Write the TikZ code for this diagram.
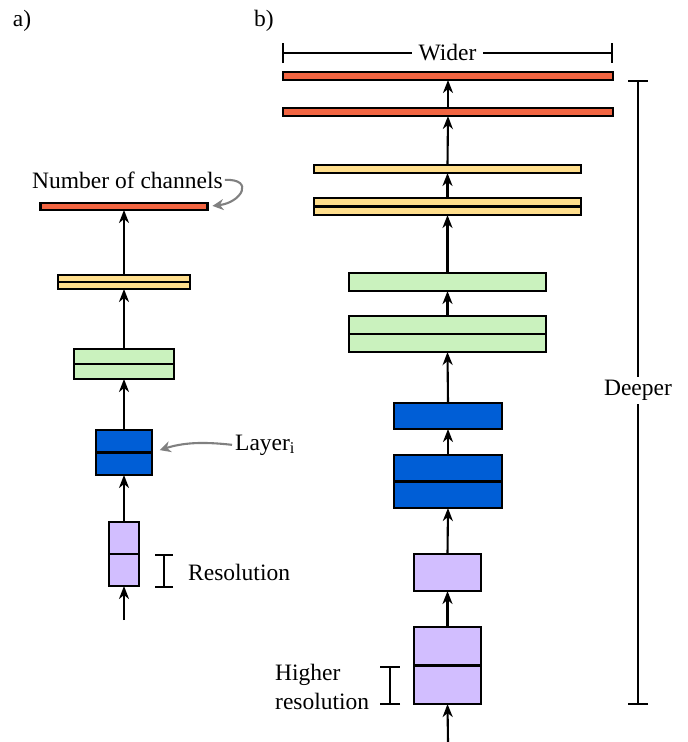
\documentclass[tikz,border=0pt]{standalone}
\usepackage{fontspec}
\setmainfont{Liberation Serif}
\usepackage{xcolor}
\usetikzlibrary{arrows.meta}

\definecolor{lagrod}{RGB}{242,101,66}
\definecolor{laggul}{RGB}{255,222,140}
\definecolor{laggron}{RGB}{202,242,190}
\definecolor{lagblaa}{RGB}{0,94,214}
\definecolor{laglilla}{RGB}{210,190,255}
\definecolor{pilgraa}{RGB}{128,128,128}

\begin{document}
\begin{tikzpicture}[x=1pt,y=-1pt,
    >={Stealth[length=13pt,width=10pt,inset=4pt]},
    font=\fontsize{23.5}{29}\selectfont,
    lag/.style={draw,line width=2.1pt,inner sep=0pt,outer sep=0pt,fill=#1},
    pil/.style={->,line width=2.1pt},
    graapil/.style={-{Stealth[length=11pt,width=11pt,inset=3.5pt]},draw=pilgraa,line width=2.1pt},
    maal/.style={{Bar[width=20pt]}-{Bar[width=20pt]},line width=2.1pt}]
  \useasboundingbox (0,0) rectangle (688,742);

  % Delfigur a
  \node (aMrk) at (22,21) {a)};
  \node[lag=lagrod,minimum width=167pt,minimum height=7pt] (aRod) at (124,206.5) {};
  \node[lag=laggul,minimum width=132pt,minimum height=14pt] (aGul) at (124,282) {};
  \node[lag=laggron,minimum width=100pt,minimum height=30pt] (aGron) at (124,364) {};
  \node[lag=lagblaa,minimum width=56pt,minimum height=45pt] (aBlaa) at (124,452.5) {};
  \node[lag=laglilla,minimum width=30pt,minimum height=64pt] (aLilla) at (124,554) {};
  \coordinate (aInd) at (124,620);

  % Delfigur b
  \node (bMrk) at (264,21) {b)};
  \node[lag=lagrod,minimum width=330pt,minimum height=8pt] (bRod1) at (448,76) {};
  \node[lag=lagrod,minimum width=330pt,minimum height=8pt] (bRod2) at (448,112) {};
  \node[lag=laggul,minimum width=267pt,minimum height=8pt] (bGul1) at (447.5,169) {};
  \node[lag=laggul,minimum width=267pt,minimum height=17pt] (bGul2) at (447.5,206.5) {};
  \node[lag=laggron,minimum width=197pt,minimum height=18pt] (bGron1) at (447.5,282) {};
  \node[lag=laggron,minimum width=197pt,minimum height=36pt] (bGron2) at (447.5,334) {};
  \node[lag=lagblaa,minimum width=108pt,minimum height=26pt] (bBlaa1) at (448,416) {};
  \node[lag=lagblaa,minimum width=108pt,minimum height=53pt] (bBlaa2) at (448,481.5) {};
  \node[lag=laglilla,minimum width=67pt,minimum height=37pt] (bLilla1) at (447.5,572.5) {};
  \node[lag=laglilla,minimum width=67pt,minimum height=77pt] (bLilla2) at (447.5,665.5) {};
  \coordinate (bInd) at (448,742);

  % Dobbeltlag: streg i midten
  \foreach \n in {aGul,aGron,aBlaa,aLilla,bGul2,bGron2,bBlaa2,bLilla2}
    \draw[line width=2.1pt] (\n.west) -- (\n.east);

  % Pile mellem lagene
  \draw[pil] (aInd) -- (aLilla.south);
  \draw[pil] (aLilla.north) -- (aBlaa.south);
  \draw[pil] (aBlaa.north) -- (aGron.south);
  \draw[pil] (aGron.north) -- (aGul.south);
  \draw[pil] (aGul.north) -- (aRod.south);
  \draw[pil] (bInd) -- (bLilla2.south);
  \draw[pil] (bLilla2.north) -- (bLilla1.south);
  \draw[pil] (bLilla1.north) -- (bBlaa2.south);
  \draw[pil] (bBlaa2.north) -- (bBlaa1.south);
  \draw[pil] (bBlaa1.north) -- (bGron2.south);
  \draw[pil] (bGron2.north) -- (bGron1.south);
  \draw[pil] (bGron1.north) -- (bGul2.south);
  \draw[pil] (bGul2.north) -- (bGul1.south);
  \draw[pil] (bGul1.north) -- (bRod2.south);
  \draw[pil] (bRod2.north) -- (bRod1.south);

  % Forklarende tekster med grå pile
  \node[anchor=base west,inner sep=2pt] (kanaler) at (30,188) {Number of channels};
  \draw[graapil] (kanaler.east) .. controls +(30,-1) and +(34,-4) .. (aRod.east)
    [shorten >=5pt];
  \node[anchor=base west,inner sep=3pt] (lagtekst) at (232,450) {Layer\textsubscript{i}};
  \draw[graapil,shorten >=8pt] (lagtekst.west) to[bend right=12] (aBlaa.east);

  % Opløsning
  \coordinate (resOp) at (164,554);
  \coordinate (resNed) at (164,588);
  \draw[maal,{Bar[width=18pt]}-{Bar[width=18pt]}] (resOp) -- (resNed);
  \node[anchor=base west,inner sep=0pt] (restekst) at (188,580) {Resolution};

  \coordinate (hojOp) at (390,666);
  \coordinate (hojNed) at (390,705);
  \draw[maal] (hojOp) -- (hojNed);
  \node[anchor=base west,align=left,inner sep=0pt] (hojtekst) at (275,709)
    {Higher\\resolution};

  % Bredere og dybere
  \coordinate (bredV) at (282,53);
  \coordinate (bredH) at (613,53);
  \draw[maal] (bredV) -- (bredH)
    node[midway,fill=white,inner xsep=7pt,inner ysep=2pt] (bredtekst) {Wider};
  \coordinate (dybOp) at (638,80);
  \coordinate (dybNed) at (638,705);
  \draw[maal] (dybOp) -- (dybNed)
    node[pos=0.497,fill=white,inner xsep=1pt,inner ysep=3pt] (dybtekst) {Deeper};
\end{tikzpicture}
\end{document}
